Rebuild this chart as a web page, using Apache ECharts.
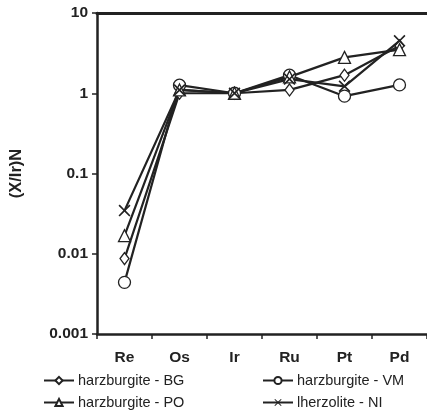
<!DOCTYPE html>
<html><head><meta charset="utf-8">
<script src="https://cdn.jsdelivr.net/npm/echarts@6/dist/echarts.min.js"></script>
<style>html,body{margin:0;padding:0;background:#fff}#c{width:427px;height:414px}</style>
</head><body><div id="c"></div>
<script>
const categories = ['Re', 'Os', 'Ir', 'Ru', 'Pt', 'Pd'];
const yTicks = [0.001, 0.01, 0.1, 1, 10];
const harzBG = [0.0087, 1.0, 1.0, 1.1, 1.68, 3.9];
const harzVM = [0.0044, 1.26, 1.0, 1.68, 0.92, 1.27];
const harzPO = [0.0168, 1.1, 1.0, 1.6, 2.8, 3.5];
const lherzNI = [0.0345, 1.1, 1.0, 1.5, 1.22, 4.5];

const ink = '#222';
const xPath = 'path://M0,1 L1,0 L5,4 L9,0 L10,1 L6,5 L10,9 L9,10 L5,6 L1,10 L0,9 L4,5 Z';

function mk(name, data, symbol, size, filled) {
  return {
    name, type: 'line', data, symbol, symbolSize: size,
    lineStyle: { color: ink, width: 2.2 },
    itemStyle: filled ? { color: ink, borderWidth: 0 } : { color: '#fff', borderColor: ink, borderWidth: 1.3 },
    z: 3
  };
}
function lg(name, left, top) {
  return { orient: 'horizontal', left, top, padding: 0, itemWidth: 30, itemHeight: 9, itemGap: 0,
    textStyle: { color: ink, fontSize: 14.5, fontFamily: 'Liberation Sans, Arial, sans-serif', padding: [0, 0, 0, -1] },
    data: [name] };
}

const chart = echarts.init(document.getElementById('c'), null, { renderer: 'canvas' });
chart.setOption({
  animation: false,
  textStyle: { fontFamily: 'Liberation Sans, Arial, sans-serif' },
  grid: { left: 97, top: 13, width: 334, height: 321 },
  xAxis: [{
    type: 'category', data: categories, boundaryGap: true,
    axisLine: { lineStyle: { color: ink, width: 2.5 } },
    axisTick: { show: true, length: 5, inside: false, lineStyle: { color: ink, width: 1.5 } },
    axisLabel: { margin: 16, color: ink, fontWeight: 'bold', fontSize: 15.5 },
    splitLine: { show: false }
  }, {
    type: 'category', data: categories, position: 'top', boundaryGap: true,
    axisLine: { lineStyle: { color: ink, width: 3 } },
    axisTick: { show: false }, axisLabel: { show: false }, splitLine: { show: false }
  }],
  yAxis: {
    type: 'log', logBase: 10, min: yTicks[0], max: yTicks[yTicks.length - 1],
    name: '(X/Ir)N', nameLocation: 'middle', nameGap: 72, nameRotate: 90,
    nameTextStyle: { color: ink, fontWeight: 'bold', fontSize: 16.5 },
    axisLine: { show: true, lineStyle: { color: ink, width: 2.5 } },
    axisTick: { show: true, length: 5, lineStyle: { color: ink, width: 1.5 } },
    axisLabel: { margin: 9, color: ink, fontWeight: 'bold', fontSize: 15.5,
      formatter: v => { const r = yTicks.find(t => Math.abs(Math.log10(t) - Math.log10(v)) < 1e-6); return r !== undefined ? String(r) : ''; } },
    splitLine: { show: false }
  },
  legend: [
    lg('harzburgite - BG', 43, 373),
    lg('harzburgite - PO', 43, 395),
    lg('harzburgite - VM', 262, 373),
    lg('lherzolite - NI', 262, 395)
  ],
  series: [
    mk('harzburgite - BG', harzBG, 'diamond', [9, 12], false),
    mk('harzburgite - VM', harzVM, 'circle', 12, false),
    mk('harzburgite - PO', harzPO, 'triangle', 12, false),
    mk('lherzolite - NI', lherzNI, xPath, 12, true)
  ]
});
</script></body></html>
